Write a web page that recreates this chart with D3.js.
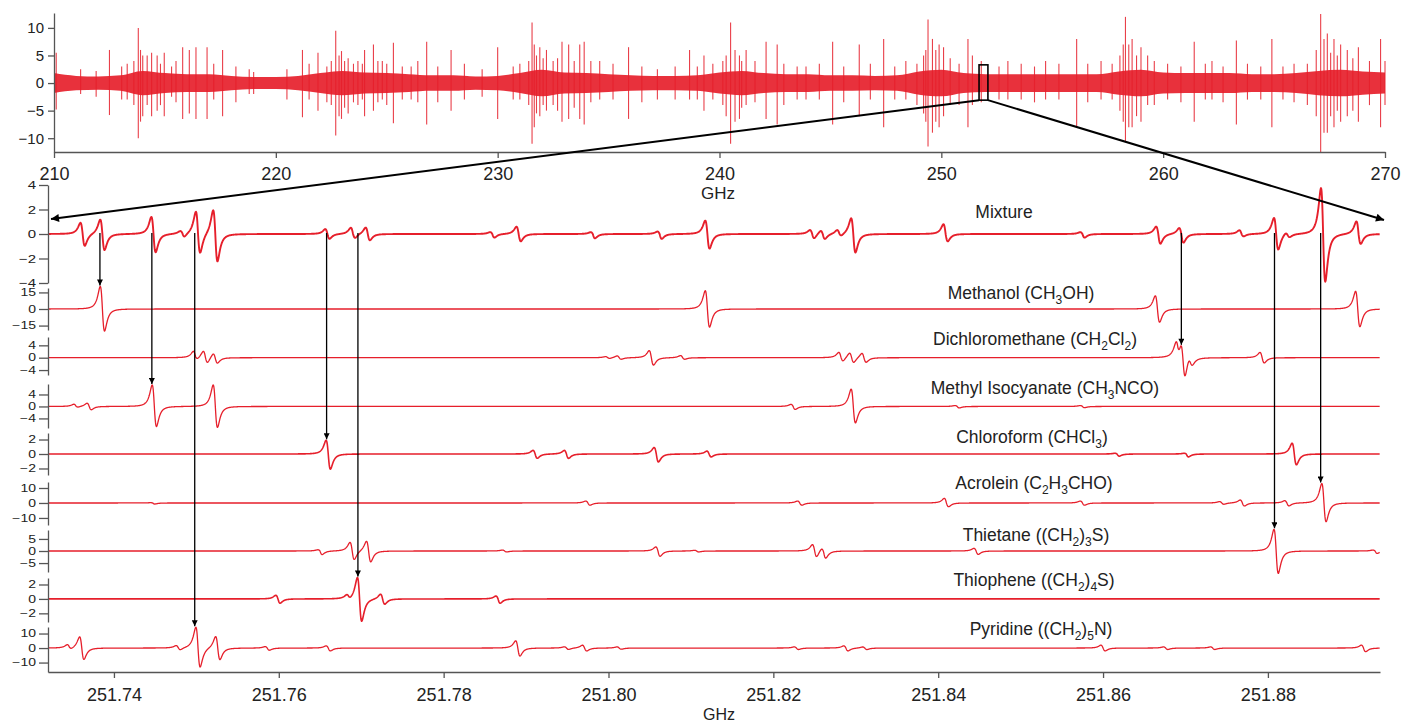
<!DOCTYPE html>
<html>
<head>
<meta charset="utf-8">
<script src="https://cdn.jsdelivr.net/npm/d3@7"></script>
<style>
  body { margin: 0; background: #fff; }
  svg { font-family: "Liberation Sans", Arial, sans-serif; }
</style>
</head>
<body>
<svg id="chart" width="1403" height="723"></svg>
<script>
// ---------- data: overview spectrum 210-270 GHz ----------
const overviewXTicks = [210, 220, 230, 240, 250, 260, 270];
const overviewYTicks = [-10, -5, 0, 5, 10];
// [GHz, height up, depth down]
const overviewSpikes = [
  [210.1, 5.5, 4.8], [212.5, 6, 5.8], [213.05, 3, 3], [213.6, 4, 4], [213.8, 10, 10],
  [213.9, 6, 7], [214.0, 5, 6], [214.2, 5, 4], [214.4, 5.5, 6], [214.65, 5, 5],
  [214.97, 5.5, 6], [215.3, 3, 2.5], [215.8, 6.5, 6.5], [216.1, 6, 5.5], [216.4, 6.5, 6.5],
  [216.9, 6.5, 6.5], [217.6, 6, 6], [219.0, 2, 2], [221.2, 6, 6.2], [221.9, 5.5, 5],
  [222.5, 4, 4], [222.7, 9.5, 9.5], [222.85, 5, 6], [222.96, 5.8, 6.5], [223.26, 4.5, 5.5],
  [223.5, 3.5, 3.5], [223.7, 4, 4], [224.0, 6, 6], [224.4, 7, 5], [224.8, 4, 3],
  [225.3, 7.3, 7.3], [226.1, 3, 3], [226.8, 7.5, 7.5], [227.9, 6, 5], [230.0, 6.5, 6.5],
  [230.7, 3, 3], [231.4, 4, 4], [231.55, 11, 11], [231.65, 7, 8], [231.9, 6.5, 6],
  [232.2, 6, 5], [232.5, 4, 4], [232.9, 7.5, 7], [233.2, 7, 6.5], [233.7, 7, 6.5],
  [233.9, 7.5, 7.5], [234.6, 4, 3], [235.9, 6.5, 6.5], [238.0, 3, 3], [238.65, 6, 3],
  [239.3, 5, 5], [240.3, 5, 6], [240.5, 11, 11], [240.7, 6, 7], [240.9, 5, 6.5],
  [241.2, 6, 4], [242.1, 7.5, 6.5], [242.6, 7, 7.5], [243.5, 3, 3], [245.1, 7.5, 7.5],
  [246.3, 7, 6], [247.4, 8, 8], [248.4, 4, 3], [249.3, 6, 7], [249.4, 11.5, 11.5],
  [249.6, 8, 9], [249.75, 6, 7], [249.9, 7, 8], [250.1, 6.5, 6], [251.2, 8, 8],
  [251.4, 5, 4], [253.0, 4, 3], [254.7, 4, 3], [256.1, 8, 8], [257.2, 4, 3],
  [258.2, 7, 7], [258.3, 12, 10.5], [258.45, 7, 8], [258.6, 8, 8], [258.8, 5, 6],
  [259.0, 6.5, 7], [259.3, 5, 4], [261.4, 7.5, 7], [262.2, 4, 3], [263.3, 7.7, 7.5],
  [264.9, 8, 8], [265.4, 3, 3], [266.9, 6, 6], [267.1, 12.5, 12.5], [267.25, 8, 9],
  [267.4, 9, 9], [267.7, 8, 8], [268.0, 7, 7], [268.3, 6, 6], [268.8, 6.5, 7],
  [269.8, 8, 8], [270.0, 4, 4],
  // smaller hairs
  [211.2, 2.5, 2], [211.9, 2.2, 2.5], [213.3, 3.5, 3], [214.8, 3.5, 4], [215.5, 4, 3.5],
  [217.2, 3.5, 3], [218.2, 3, 3.5], [218.8, 2.5, 2], [220.5, 2.5, 3], [221.5, 3.5, 3],
  [222.3, 3, 3.5], [223.1, 4, 4.5], [223.9, 3.5, 3], [224.6, 4, 3.5], [225.0, 3.5, 4],
  [225.7, 3, 3], [226.4, 4, 3.5], [227.3, 3, 3.5], [228.5, 3.5, 3], [229.3, 2.5, 2.5],
  [231.0, 3.5, 3], [231.75, 5, 5.5], [232.05, 4.5, 4], [232.7, 4.5, 5], [233.45, 4, 4.5],
  [234.2, 4, 3.5], [235.2, 3.5, 3], [236.5, 3, 3.5], [237.2, 2.5, 3], [239.0, 3, 3],
  [239.7, 3.5, 3], [240.15, 4, 4], [241.0, 4, 4.5], [241.6, 4, 3.5], [242.9, 3.5, 4],
  [243.9, 3, 3], [244.5, 3.5, 3], [245.6, 3, 3.5], [246.8, 3.5, 3], [247.9, 3, 3],
  [248.9, 3.5, 4], [249.2, 5, 5.5], [250.4, 4.5, 4], [250.8, 3.5, 4], [251.8, 4, 3.5],
  [252.6, 3, 3], [253.6, 3.5, 3], [254.2, 3, 3.5], [255.3, 3.5, 3], [256.6, 3.5, 3.5],
  [257.7, 3.5, 3], [258.05, 5, 5], [259.6, 4, 4], [260.2, 3.5, 3], [260.8, 3, 3.5],
  [261.9, 3.5, 3], [262.7, 3, 3.5], [263.8, 3.5, 3], [264.4, 3, 3], [265.9, 3.5, 3.5],
  [266.5, 3.5, 4], [267.55, 5.5, 6], [267.85, 5, 5], [268.55, 4.5, 5], [269.3, 4, 4]
];
// dense baseline band half-height [GHz, amplitude]
const overviewBand = [
  [210, 1.8], [211, 1.3], [212, 1.2], [213, 1.4], [214, 2.2], [215, 1.8], [216, 1.6],
  [217, 1.6], [218, 1.3], [219, 1.1], [220, 1.1], [221, 1.3], [222, 1.8], [223, 2.2],
  [224, 1.9], [225, 1.8], [226, 1.6], [227, 1.4], [228, 1.4], [229, 1.2], [230, 1.3],
  [231, 1.8], [232, 2.4], [233, 1.9], [234, 1.8], [235, 1.6], [236, 1.4], [237, 1.3],
  [238, 1.3], [239, 1.4], [240, 1.9], [241, 2.2], [242, 1.8], [243, 1.6], [244, 1.6],
  [245, 1.4], [246, 1.4], [247, 1.3], [248, 1.4], [249, 2.1], [250, 2.4], [251, 1.8],
  [252, 1.6], [253, 1.6], [254, 1.6], [255, 1.6], [256, 1.6], [257, 1.6], [258, 2.1],
  [259, 2.4], [260, 1.9], [261, 1.8], [262, 1.8], [263, 1.8], [264, 1.6], [265, 1.6],
  [266, 1.8], [267, 2.2], [268, 2.4], [269, 2.1], [270, 1.9]
];
const zoomWindow = [251.70, 252.10];

// ---------- data: zoomed spectra (line centre GHz, peak, dip) ----------
const detailXTicks = [251.74, 251.76, 251.78, 251.80, 251.82, 251.84, 251.86, 251.88];
const detailRange = [251.732, 251.8936];

const mixtureLines = [
  [251.7362, 0.9, 1.0], [251.7386, 1.2, 1.3], [251.7448, 1.4, 1.5], [251.7483, 0.2, 0.3],
  [251.7502, 1.8, 1.6], [251.7523, 2.0, 2.2], [251.7659, 0.4, 0.4], [251.7690, 0.5, 0.35],
  [251.7708, 0.55, 0.5], [251.7859, 0.15, 0.3], [251.7891, 0.6, 0.6], [251.7981, 0.15, 0.35],
  [251.8062, 0.2, 0.4], [251.8120, 1.1, 1.2], [251.8247, 0.3, 0.4], [251.8260, 0.3, 0.4],
  [251.8280, 0.3, 0.2], [251.8297, 1.3, 1.5], [251.8409, 0.8, 0.6], [251.8575, 0.15, 0.3],
  [251.8667, 0.6, 0.8], [251.8695, 0.5, 0.7], [251.8768, 0.3, 0.2], [251.8810, 1.3, 1.3],
  [251.8824, 0.2, 0.2], [251.8867, 3.75, 3.9], [251.8910, 1.05, 0.8]
];
const methanolLines = [
  [251.7386, 20.5, 20], [251.8120, 16.6, 16.4], [251.8666, 12, 12], [251.8909, 16, 16]
];
const dichloromethaneLines = [
  [251.7499, 1.9, 0.7], [251.7511, 2.1, 1.8], [251.7523, 1.6, 1.6], [251.7999, 0.3, 0.3],
  [251.8013, 0.6, 0.5], [251.8052, 2.3, 2.4], [251.8090, 0.7, 0.5], [251.8282, 1.6, 1.3],
  [251.8295, 1.6, 1.6], [251.8310, 1.6, 1.4], [251.8691, 3.5, 2.0], [251.8697, 5.5, 6.0],
  [251.8706, 1.5, 1.5], [251.8793, 1.7, 1.7]
];
const methylIsocyanateLines = [
  [251.7354, 0.7, 0.3], [251.7370, 1.1, 1.1], [251.7449, 7.2, 6.7], [251.7523, 7.2, 7.0],
  [251.8224, 0.7, 1.0], [251.8297, 5.8, 5.5], [251.8423, 0.3, 0.5], [251.8575, 0.3, 0.4]
];
const chloroformLines = [
  [251.7660, 1.9, 2.1], [251.7911, 0.5, 0.6], [251.7949, 0.5, 0.6], [251.8058, 0.9, 1.1],
  [251.8122, 0.4, 0.4], [251.8617, 0.1, 0.3], [251.8701, 0.1, 0.4], [251.8832, 1.5, 1.5]
];
const acroleinLines = [
  [251.7447, 0.2, 0.7], [251.7975, 1.3, 1.5], [251.8232, 1.3, 1.5], [251.8410, 3.1, 2.5],
  [251.8575, 1.3, 1.5], [251.8744, 0.9, 0.9], [251.8769, 2.0, 2.0], [251.8823, 1.5, 2.0],
  [251.8868, 13, 12.5]
];
const thietaneLines = [
  [251.7650, 0.5, 1.5], [251.7689, 3.5, 3.7], [251.7709, 4.2, 4.4], [251.7874, 0.4, 0.4],
  [251.8060, 1.7, 2.2], [251.8107, 0.3, 0.4], [251.8250, 2.5, 2.7], [251.8261, 1.5, 2.7],
  [251.8446, 1.1, 1.4], [251.8810, 9, 9.3], [251.8930, 0.4, 1.0]
];
const thiopheneLines = [
  [251.7599, 0.5, 0.6], [251.7685, 0.4, 0.2], [251.7698, 3.0, 3.1], [251.7726, 0.7, 0.7],
  [251.7866, 0.4, 0.6]
];
const pyridineLines = [
  [251.7346, 2, 1], [251.7361, 7.8, 7.8], [251.7478, 1.5, 1.5], [251.7502, 14.3, 13.3],
  [251.7526, 8.3, 7.8], [251.7586, 1, 1.5], [251.7660, 1.5, 2], [251.7890, 5, 5.5],
  [251.7949, 0.8, 1], [251.7971, 2, 2], [251.8013, 0.8, 0.8], [251.8228, 0.8, 1],
  [251.8288, 1.5, 2], [251.8311, 0.8, 1], [251.8600, 2, 2], [251.8676, 0.8, 1],
  [251.8733, 0.8, 1], [251.8916, 2, 2.5]
];

const panelNames = ["Mixture", "Methanol (CH_3OH)", "Dichloromethane (CH_2Cl_2)",
  "Methyl Isocyanate (CH_3NCO)", "Chloroform (CHCl_3)", "Acrolein (C_2H_3CHO)",
  "Thietane ((CH_2)_3S)", "Thiophene ((CH_2)_4S)", "Pyridine ((CH_2)_5N)"];
const panelDomains = [[-4, 4], [-19, 19], [-5.6, 6.7], [-7.2, 7.5], [-2.9, 2.9],
  [-14.7, 14], [-8.7, 8.7], [-3.2, 2.9], [-16.5, 14.5]];
const panelTicks = [[-4, -2, 0, 2, 4], [-15, 0, 15], [-4, 0, 4], [-4, 0, 4], [-2, 0, 2],
  [-10, 0, 10], [-5, 0, 5], [-2, 0, 2], [-10, 0, 10]];
const panelLines = [mixtureLines, methanolLines, dichloromethaneLines, methylIsocyanateLines,
  chloroformLines, acroleinLines, thietaneLines, thiopheneLines, pyridineLines];

// mixture peak -> reference panel index
const assignments = [
  [251.7383, 1], [251.7446, 3], [251.7498, 8], [251.7658, 4], [251.7696, 7],
  [251.8695, 2], [251.8808, 6], [251.8864, 5]
];

// ---------- layout ----------
const RED = "#e61f2b";
const AXIS = "#555";
const svg = d3.select("#chart");
const panelPx = [[185, 283], [288, 330], [337, 375], [384, 428], [433, 475],
  [482, 525], [530, 572], [578, 622], [627, 672]];
const labelX = [1004, 1021, 1035, 1045, 1032, 1034, 1036, 1034, 1041];
const labelY = [218, 299, 345, 394, 443, 489, 541, 586, 635];
const traceWidth = [1.9, 1.3, 1.3, 1.3, 1.6, 1.3, 1.3, 1.6, 1.3];

const defs = svg.append("defs");
function marker(id, len, wid) {
  defs.append("marker").attr("id", id)
    .attr("viewBox", "0 0 10 10").attr("refX", 10).attr("refY", 5)
    .attr("markerUnits", "userSpaceOnUse")
    .attr("markerWidth", len).attr("markerHeight", wid)
    .attr("orient", "auto")
    .append("path").attr("d", "M0,0L10,5L0,10z").attr("fill", "#000");
}
marker("headBig", 13, 8);
marker("headSmall", 8, 6);

function styleAxis(g, size) {
  g.selectAll(".domain, .tick line").attr("stroke", AXIS).attr("stroke-width", 1.3);
  g.selectAll("text").attr("fill", "#222").attr("font-size", size);
}

// ---------- overview panel ----------
const xTop = d3.scaleLinear().domain([210, 270]).range([54, 1385]);
const yTop = d3.scaleLinear().domain([-12.5, 12.7]).range([152, 13]);

const band = d3.area()
  .x(d => xTop(d[0]))
  .y0(d => yTop(-d[1]))
  .y1(d => yTop(d[1]))
  .curve(d3.curveMonotoneX);
svg.append("path").datum(overviewBand)
  .attr("d", band).attr("fill", RED).attr("opacity", 0.92);

svg.append("g").selectAll("line").data(overviewSpikes).join("line")
  .attr("x1", d => xTop(d[0])).attr("x2", d => xTop(d[0]))
  .attr("y1", d => yTop(d[1])).attr("y2", d => yTop(-d[2]))
  .attr("stroke", RED).attr("stroke-width", 1.1).attr("opacity", 0.85);

svg.append("g").attr("transform", "translate(0,152)")
  .call(d3.axisBottom(xTop).tickValues(overviewXTicks).tickSize(6).tickPadding(9).tickSizeOuter(0))
  .call(g => styleAxis(g, 18));
svg.append("g").attr("transform", "translate(54,0)")
  .call(d3.axisLeft(yTop).tickValues(overviewYTicks).tickSize(6).tickPadding(4).tickSizeOuter(0))
  .call(g => styleAxis(g, 15));
svg.append("text").attr("x", 718).attr("y", 199).attr("text-anchor", "middle")
  .attr("font-size", 17).attr("fill", "#222").text("GHz");

// ---------- zoom indicator ----------
const boxX0 = xTop(zoomWindow[0]), boxX1 = xTop(zoomWindow[1]);
const boxY0 = yTop(3.3), boxY1 = yTop(-3.1);
svg.append("rect").attr("x", boxX0).attr("y", boxY0)
  .attr("width", boxX1 - boxX0).attr("height", boxY1 - boxY0)
  .attr("fill", "none").attr("stroke", "#000").attr("stroke-width", 1.6);

// ---------- detail panels ----------
const xDet = d3.scaleLinear().domain(detailRange).range([48, 1380]);
const HALF_WIDTH = 0.00045; // GHz

function lineShape(f, lines) {
  let y = 0;
  for (const [c, up, dn] of lines) {
    const u = (f - c) / HALF_WIDTH;
    const g = -u / Math.pow(1 + u * u, 2) / 0.3248;
    y += g > 0 ? up * g : dn * g;
  }
  return y;
}

const grid = d3.range(detailRange[0], detailRange[1], 0.00004);
const yScales = [];

panelNames.forEach((name, i) => {
  const y = d3.scaleLinear().domain(panelDomains[i]).range([panelPx[i][1], panelPx[i][0]]);
  yScales.push(y);
  const pts = grid.map(f => [f, lineShape(f, panelLines[i])]);
  svg.append("path").datum(pts)
    .attr("d", d3.line().x(d => xDet(d[0])).y(d => y(d[1])))
    .attr("fill", "none").attr("stroke", RED)
    .attr("stroke-width", traceWidth[i]).attr("stroke-linejoin", "round");

  svg.append("g").attr("transform", "translate(48,0)")
    .call(d3.axisLeft(y).tickValues(panelTicks[i]).tickFormat(d3.format("d"))
      .tickSize(9).tickPadding(3).tickSizeOuter(0))
    .call(g => styleAxis(g, i === 0 ? 15 : 14))
    .call(g => g.selectAll("text").attr("transform", i === 0 ? "scale(1,0.78)" : "scale(1,0.72)"));

  // label with subscripts
  const t = svg.append("text").attr("x", labelX[i]).attr("y", labelY[i])
    .attr("text-anchor", "middle").attr("font-size", 17.5).attr("fill", "#222");
  let sub = false;
  name.split(/_(\d)/).forEach((part, k) => {
    if (!part) return;
    const isSub = k % 2 === 1;
    const ts = t.append("tspan").text(part);
    if (isSub) { ts.attr("font-size", 12).attr("dy", sub ? 0 : 5); sub = true; }
    else if (sub) { ts.attr("dy", -5); sub = false; }
  });
});

svg.append("g").attr("transform", "translate(0,672)")
  .call(d3.axisBottom(xDet).tickValues(detailXTicks).tickFormat(d3.format(".2f"))
    .tickSize(6).tickPadding(10).tickSizeOuter(0))
  .call(g => styleAxis(g, 18));
svg.append("text").attr("x", 719).attr("y", 720).attr("text-anchor", "middle")
  .attr("font-size", 16).attr("fill", "#222").text("GHz");

// zoom lines from the box to the detail axis ends
svg.append("line").attr("x1", boxX0).attr("y1", boxY1).attr("x2", 51).attr("y2", 219)
  .attr("stroke", "#000").attr("stroke-width", 2).attr("marker-end", "url(#headBig)");
svg.append("line").attr("x1", boxX1).attr("y1", boxY1).attr("x2", 1384).attr("y2", 220)
  .attr("stroke", "#000").attr("stroke-width", 2).attr("marker-end", "url(#headBig)");

// assignment arrows
const yMixZero = yScales[0](0) - 1;
assignments.forEach(([f, p]) => {
  const near = grid.filter(g => Math.abs(g - f) < 0.0004);
  const peak = d3.max(near, g => lineShape(g, panelLines[p]));
  svg.append("line")
    .attr("x1", xDet(f)).attr("x2", xDet(f))
    .attr("y1", yMixZero).attr("y2", yScales[p](peak) - 1)
    .attr("stroke", "#000").attr("stroke-width", 1.3)
    .attr("marker-end", "url(#headSmall)");
});
</script>
</body>
</html>
